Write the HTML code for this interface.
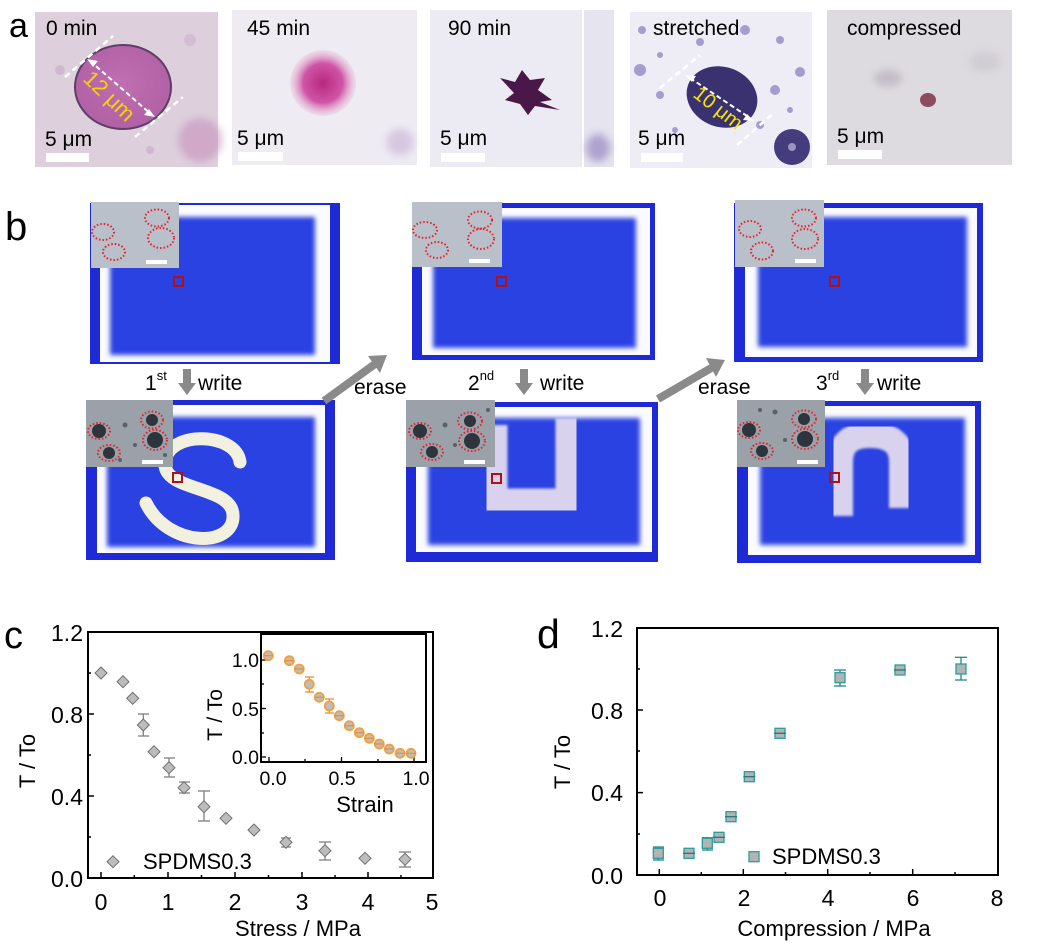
<!DOCTYPE html>
<html><head><meta charset="utf-8">
<style>
html,body{margin:0;padding:0;background:#fff;}
svg{display:block;font-family:"Liberation Sans",Arial,sans-serif;}
</style></head>
<body>
<svg width="1051" height="947" viewBox="0 0 1051 947" xmlns="http://www.w3.org/2000/svg">
<defs>
<filter id="blur2" x="-10%" y="-10%" width="120%" height="120%"><feGaussianBlur stdDeviation="2.5"/></filter>
<filter id="blur1"><feGaussianBlur stdDeviation="1.2"/></filter>
<filter id="blur4" x="-50%" y="-50%" width="200%" height="200%"><feGaussianBlur stdDeviation="4"/></filter>
<radialGradient id="pinkblob" cx="0.5" cy="0.5" r="0.5">
<stop offset="0" stop-color="#b8287e"/><stop offset="0.6" stop-color="#d055a6"/><stop offset="1" stop-color="#e8b8d8" stop-opacity="0.3"/></radialGradient>
<radialGradient id="cellA" cx="0.5" cy="0.45" r="0.55">
<stop offset="0" stop-color="#c070b0"/><stop offset="1" stop-color="#b060a4"/></radialGradient>
</defs>

<!-- ================= PANEL A ================= -->
<text x="9" y="37" font-size="34" fill="#000">a</text>

<!-- image 1 -->
<rect x="35" y="12" width="183" height="155" fill="#ddd0dc"/>
<circle cx="200" cy="140" r="22" fill="#c890bc" opacity="0.6" filter="url(#blur4)"/>
<circle cx="60" cy="70" r="5" fill="#c8a8c8" opacity="0.6"/>
<circle cx="190" cy="40" r="6" fill="#ccb0cc" opacity="0.6"/>
<circle cx="150" cy="150" r="4" fill="#c8a8c8" opacity="0.6"/>
<ellipse cx="123" cy="87" rx="48" ry="42" fill="url(#cellA)" stroke="#5e3e66" stroke-width="2"/>
<line x1="65" y1="77" x2="113" y2="36" stroke="#fff" stroke-width="2.5" stroke-dasharray="6,4"/>
<line x1="135" y1="137" x2="183" y2="97" stroke="#fff" stroke-width="2.5" stroke-dasharray="6,4"/>
<line x1="90" y1="61" x2="152" y2="115" stroke="#fff" stroke-width="2" stroke-dasharray="5,3"/>
<path d="M87,59 l11,2 l-5,6 z" fill="#fff"/>
<path d="M155,117 l-11,-2 l5,-6 z" fill="#fff"/>
<text x="0" y="0" font-size="22" fill="#f5d400" transform="translate(82,80) rotate(44)">12 μm</text>
<text x="46" y="35" font-size="21" fill="#000">0 min</text>
<text x="45" y="146" font-size="21" fill="#000">5 μm</text>
<rect x="46" y="153" width="43" height="9" fill="#fff"/>

<!-- image 2 -->
<rect x="232" y="10" width="185" height="155" fill="#eeecf2"/>
<circle cx="400" cy="142" r="14" fill="#c8b0d8" opacity="0.6" filter="url(#blur4)"/>
<circle cx="323" cy="83" r="33" fill="url(#pinkblob)"/>
<text x="247" y="35" font-size="21" fill="#000">45 min</text>
<text x="237" y="145" font-size="21" fill="#000">5 μm</text>
<rect x="238" y="152" width="45" height="9" fill="#fff"/>

<!-- image 3 -->
<rect x="430" y="10" width="152" height="157" fill="#ecebf3"/>
<rect x="584" y="10" width="30" height="157" fill="#e6e4ef"/>
<ellipse cx="598" cy="148" rx="12" ry="14" fill="#8878b8" opacity="0.6" filter="url(#blur4)"/>
<path d="M515,82 L522,70 L530,80 L545,78 L538,90 L552,100 L540,102 L560,110 L535,106 L528,115 L520,104 L505,100 L514,93 L500,78 Z" fill="#4a1848"/>
<text x="448" y="35" font-size="21" fill="#000">90 min</text>
<text x="440" y="145" font-size="21" fill="#000">5 μm</text>
<rect x="441" y="153" width="44" height="9" fill="#fff"/>

<!-- image 4 -->
<rect x="630" y="12" width="182" height="156" fill="#eeedf6"/>
<g fill="#8c84c4" opacity="0.75">
<circle cx="642" cy="30" r="4"/><circle cx="660" cy="55" r="3"/><circle cx="700" cy="42" r="4"/>
<circle cx="745" cy="30" r="5"/><circle cx="780" cy="40" r="4"/><circle cx="800" cy="72" r="5"/>
<circle cx="660" cy="95" r="4"/><circle cx="675" cy="130" r="3"/><circle cx="775" cy="90" r="5"/>
<circle cx="790" cy="110" r="3"/><circle cx="640" cy="70" r="6"/><circle cx="760" cy="125" r="4"/>
</g>
<ellipse cx="722" cy="97" rx="36" ry="30" fill="#3a3270" transform="rotate(20 722 97)"/>
<circle cx="792" cy="147" r="18" fill="#443c7c"/>
<circle cx="792" cy="147" r="4" fill="#9a94c0"/>
<line x1="660" y1="88" x2="700" y2="55" stroke="#fff" stroke-width="2.5" stroke-dasharray="6,4"/>
<line x1="737" y1="145" x2="775" y2="112" stroke="#fff" stroke-width="2.5" stroke-dasharray="6,4"/>
<line x1="690" y1="78" x2="750" y2="118" stroke="#fff" stroke-width="2" stroke-dasharray="5,3"/>
<path d="M685,75 l11,1 l-4,6 z" fill="#fff"/>
<path d="M754,121 l-11,-1 l4,-6 z" fill="#fff"/>
<text x="0" y="0" font-size="20" fill="#f5e600" transform="translate(692,96) rotate(38)">10 μm</text>
<text x="653" y="35" font-size="21" fill="#000">stretched</text>
<text x="638" y="145" font-size="21" fill="#000">5 μm</text>
<rect x="641" y="153" width="42" height="9" fill="#fff"/>

<!-- image 5 -->
<rect x="827" y="10" width="185" height="155" fill="#dddae0"/>
<ellipse cx="888" cy="78" rx="14" ry="8" fill="#b0a8b4" opacity="0.6" filter="url(#blur4)"/>
<ellipse cx="985" cy="62" rx="16" ry="10" fill="#c8c4cc" opacity="0.6" filter="url(#blur4)"/>
<ellipse cx="928" cy="100" rx="8" ry="7" fill="#8c4c5e"/>
<text x="847" y="35" font-size="21" fill="#000">compressed</text>
<text x="837" y="143" font-size="21" fill="#000">5 μm</text>
<rect x="838" y="150" width="44" height="9" fill="#fff"/>

<!-- ================= PANEL B ================= -->
<text x="5" y="240" font-size="40" fill="#000">b</text>

<!-- Board 1 top -->
<rect x="90" y="203" width="250" height="161" fill="#1e2ad6"/>
<rect x="100" y="205" width="230" height="157" fill="#fbfbfd"/>
<rect x="110" y="217" width="205" height="138" fill="#2b42e2" filter="url(#blur2)"/>
<!-- Board 1 bottom -->
<rect x="86" y="400" width="249" height="160" fill="#1e2ad6"/>
<rect x="97" y="405" width="228" height="148" fill="#fbfbfd"/>
<rect x="107" y="417" width="208" height="130" fill="#2b42e2" filter="url(#blur2)"/>
<path d="M240,462 C236,432 168,430 165,462 C162,492 232,485 233,515 C235,548 168,548 146,503" fill="none" stroke="#f2f0de" stroke-width="13" stroke-linecap="round"/>

<!-- Board 2 top -->
<rect x="412" y="203" width="243" height="157" fill="#1e2ad6"/>
<rect x="422" y="208" width="228" height="147" fill="#fbfbfd"/>
<rect x="433" y="218" width="203" height="130" fill="#2b42e2" filter="url(#blur2)"/>
<!-- Board 2 bottom -->
<rect x="406" y="402" width="252" height="160" fill="#1e2ad6"/>
<rect x="416" y="407" width="236" height="145" fill="#fbfbfd"/>
<rect x="428" y="418" width="212" height="127" fill="#2b42e2" filter="url(#blur2)"/>
<path d="M494,425 L494,502 L569,502 L569,418" fill="none" stroke="#d8d2ee" stroke-width="27" filter="url(#blur1)"/>

<!-- Board 3 top -->
<rect x="734" y="203" width="249" height="159" fill="#1e2ad6"/>
<rect x="745" y="208" width="232" height="149" fill="#fbfbfd"/>
<rect x="758" y="217" width="209" height="130" fill="#2b42e2" filter="url(#blur2)"/>
<!-- Board 3 bottom -->
<rect x="737" y="401" width="244" height="162" fill="#1e2ad6"/>
<rect x="748" y="406" width="227" height="149" fill="#fbfbfd"/>
<rect x="760" y="418" width="205" height="127" fill="#2b42e2" filter="url(#blur2)"/>
<path d="M840,516 L840,462 Q840,435 870,435 Q902,435 902,462 L902,508" fill="none" stroke="#d8d2ee" stroke-width="26" filter="url(#blur1)"/>

<!-- insets top (light) -->
<g>
<rect x="91" y="202" width="88" height="66" fill="#b9c0ca"/>
<g fill="none" stroke="#e8202a" stroke-width="2" stroke-dasharray="1.5,2">
<ellipse cx="103" cy="232" rx="11" ry="8"/><ellipse cx="114" cy="252" rx="11" ry="8"/>
<ellipse cx="157" cy="218" rx="12" ry="8.5"/><ellipse cx="161" cy="238" rx="13" ry="10"/></g>
<rect x="146" y="260" width="21" height="4" fill="#fff"/>
</g>
<g>
<rect x="412" y="202" width="90" height="65" fill="#b9c0ca"/>
<g fill="none" stroke="#e8202a" stroke-width="2" stroke-dasharray="1.5,2">
<ellipse cx="425" cy="230" rx="12" ry="8"/><ellipse cx="437" cy="250" rx="11" ry="8"/>
<ellipse cx="480" cy="220" rx="12" ry="8.5"/><ellipse cx="481" cy="239" rx="13" ry="10"/></g>
<rect x="469" y="259" width="21" height="4" fill="#fff"/>
</g>
<g>
<rect x="735" y="200" width="89" height="67" fill="#b9c0ca"/>
<g fill="none" stroke="#e8202a" stroke-width="2" stroke-dasharray="1.5,2">
<ellipse cx="750" cy="229" rx="11" ry="8"/><ellipse cx="762" cy="251" rx="11" ry="8.5"/>
<ellipse cx="804" cy="218" rx="12" ry="8.5"/><ellipse cx="805" cy="239" rx="13" ry="10"/></g>
<rect x="795" y="259" width="21" height="4" fill="#fff"/>
</g>
<!-- insets bottom (dark spots) -->
<g>
<rect x="86" y="400" width="87" height="67" fill="#9aa1a9"/>
<g fill="#2e343c"><circle cx="99" cy="431" r="7"/><circle cx="109" cy="453" r="6"/><circle cx="152" cy="420" r="6"/><circle cx="155" cy="440" r="8"/></g>
<g fill="#5a6068"><circle cx="125" cy="425" r="2.5"/><circle cx="135" cy="445" r="2"/><circle cx="120" cy="460" r="2"/><circle cx="165" cy="455" r="2"/></g>
<g fill="none" stroke="#e8202a" stroke-width="2" stroke-dasharray="1.5,2">
<ellipse cx="99" cy="431" rx="11" ry="8"/><ellipse cx="109" cy="453" rx="11" ry="8"/>
<ellipse cx="152" cy="420" rx="11" ry="8.5"/><ellipse cx="155" cy="440" rx="12" ry="10"/></g>
<rect x="142" y="460" width="21" height="4" fill="#fff"/>
</g>
<g>
<rect x="406" y="400" width="89" height="67" fill="#9aa1a9"/>
<g fill="#2e343c"><circle cx="420" cy="431" r="7"/><circle cx="432" cy="452" r="6"/><circle cx="470" cy="421" r="6"/><circle cx="472" cy="441" r="8"/></g>
<g fill="#5a6068"><circle cx="445" cy="425" r="2.5"/><circle cx="455" cy="445" r="2"/><circle cx="488" cy="410" r="2"/></g>
<g fill="none" stroke="#e8202a" stroke-width="2" stroke-dasharray="1.5,2">
<ellipse cx="420" cy="431" rx="11" ry="8"/><ellipse cx="432" cy="452" rx="11" ry="8"/>
<ellipse cx="470" cy="421" rx="12" ry="8.5"/><ellipse cx="472" cy="441" rx="13" ry="10"/></g>
<rect x="464" y="460" width="21" height="4" fill="#fff"/>
</g>
<g>
<rect x="737" y="400" width="88" height="67" fill="#9aa1a9"/>
<g fill="#2e343c"><circle cx="749" cy="430" r="7"/><circle cx="762" cy="451" r="6"/><circle cx="804" cy="419" r="6"/><circle cx="805" cy="439" r="8"/></g>
<g fill="#5a6068"><circle cx="775" cy="412" r="2.5"/><circle cx="785" cy="440" r="2"/><circle cx="760" cy="410" r="2"/></g>
<g fill="none" stroke="#e8202a" stroke-width="2" stroke-dasharray="1.5,2">
<ellipse cx="749" cy="430" rx="11" ry="8"/><ellipse cx="762" cy="451" rx="11" ry="8"/>
<ellipse cx="804" cy="419" rx="12" ry="8.5"/><ellipse cx="805" cy="439" rx="13" ry="10"/></g>
<rect x="797" y="460" width="21" height="4" fill="#fff"/>
</g>

<!-- red squares -->
<g fill="none" stroke="#b01018" stroke-width="2">
<rect x="174" y="277" width="9" height="9"/>
<rect x="173" y="473" width="9" height="9"/>
<rect x="497" y="277" width="9" height="9"/>
<rect x="492" y="474" width="9" height="9"/>
<rect x="830" y="277" width="9" height="9"/>
<rect x="830" y="473" width="9" height="9"/>
</g>

<!-- write labels & arrows -->
<g font-size="21" fill="#000">
<text x="145" y="390">1<tspan font-size="13" dy="-10">st</tspan></text>
<text x="198" y="390">write</text>
<text x="468" y="390">2<tspan font-size="13" dy="-10">nd</tspan></text>
<text x="540" y="390">write</text>
<text x="816" y="390">3<tspan font-size="13" dy="-10">rd</tspan></text>
<text x="877" y="390">write</text>
<text x="354" y="394">erase</text>
<text x="698" y="394">erase</text>
</g>
<g fill="#8a8a8a">
<path d="M183,369 h8 v14 h5 l-9,12 l-9,-12 h5 z"/>
<path d="M520,369 h8 v14 h5 l-9,12 l-9,-12 h5 z"/>
<path d="M861,369 h8 v14 h5 l-9,12 l-9,-12 h5 z"/>
</g>
<g stroke="#8a8a8a" stroke-width="8" fill="none">
<line x1="324" y1="401" x2="375" y2="364"/>
<line x1="658" y1="399" x2="713" y2="367"/>
</g>
<path d="M387,355 L368,356 L380,373 Z" fill="#8a8a8a"/>
<path d="M725,360 L706,358 L716,377 Z" fill="#8a8a8a"/>

<!-- ================= PANEL C ================= -->
<text x="4" y="648" font-size="38" fill="#000">c</text>
<rect x="88" y="632" width="345" height="246" fill="none" stroke="#000" stroke-width="2"/>
<g stroke="#000" stroke-width="1.5">
<line x1="101" y1="878" x2="101" y2="872"/><line x1="134.3" y1="878" x2="134.3" y2="875"/>
<line x1="168" y1="878" x2="168" y2="872"/><line x1="201.5" y1="878" x2="201.5" y2="875"/>
<line x1="235" y1="878" x2="235" y2="872"/><line x1="268.5" y1="878" x2="268.5" y2="875"/>
<line x1="302" y1="878" x2="302" y2="872"/><line x1="335" y1="878" x2="335" y2="875"/>
<line x1="368" y1="878" x2="368" y2="872"/><line x1="401" y1="878" x2="401" y2="875"/>
<line x1="88" y1="796" x2="94" y2="796"/><line x1="88" y1="714" x2="94" y2="714"/>
<line x1="88" y1="837" x2="91" y2="837"/><line x1="88" y1="755" x2="91" y2="755"/><line x1="88" y1="673" x2="91" y2="673"/>
</g>
<g font-size="23" fill="#000" text-anchor="end">
<text x="83" y="641">1.2</text><text x="83" y="723">0.8</text><text x="83" y="805">0.4</text><text x="83" y="887">0.0</text>
</g>
<g font-size="23" fill="#000" text-anchor="middle">
<text x="101" y="910">0</text><text x="168" y="910">1</text><text x="235" y="910">2</text>
<text x="302" y="910">3</text><text x="368" y="910">4</text><text x="432" y="910">5</text>
</g>
<text x="298" y="936" font-size="22" text-anchor="middle" fill="#000">Stress / MPa</text>
<text x="0" y="0" font-size="22" text-anchor="middle" fill="#000" transform="translate(35,761) rotate(-90)">T / To</text>

<!-- c error bars -->
<g stroke="#808080" stroke-width="1.3">
<line x1="143.3" y1="714" x2="143.3" y2="736"/><line x1="138" y1="714" x2="149" y2="714"/><line x1="138" y1="736" x2="149" y2="736"/>
<line x1="169" y1="758" x2="169" y2="777"/><line x1="164" y1="758" x2="175" y2="758"/><line x1="164" y1="777" x2="175" y2="777"/>
<line x1="184" y1="782" x2="184" y2="793"/><line x1="179" y1="782" x2="190" y2="782"/><line x1="179" y1="793" x2="190" y2="793"/>
<line x1="204" y1="791" x2="204" y2="821"/><line x1="198" y1="791" x2="210" y2="791"/><line x1="198" y1="821" x2="210" y2="821"/>
<line x1="286" y1="838" x2="286" y2="847"/><line x1="281" y1="838" x2="291" y2="838"/><line x1="281" y1="847" x2="291" y2="847"/>
<line x1="325" y1="842" x2="325" y2="860"/><line x1="319" y1="842" x2="331" y2="842"/><line x1="319" y1="860" x2="331" y2="860"/>
<line x1="405" y1="852" x2="405" y2="867"/><line x1="399" y1="852" x2="411" y2="852"/><line x1="399" y1="867" x2="411" y2="867"/>
</g>
<g fill="#bcbcbc" stroke="#6e6e6e" stroke-width="1">
<path d="M101,667 l6,6 l-6,6 l-6,-6 z"/>
<path d="M123,675.7 l6,6 l-6,6 l-6,-6 z"/>
<path d="M132.7,692.3 l6,6 l-6,6 l-6,-6 z"/>
<path d="M143.3,719 l6,6 l-6,6 l-6,-6 z"/>
<path d="M154,745.7 l6,6 l-6,6 l-6,-6 z"/>
<path d="M169,761.7 l6,6 l-6,6 l-6,-6 z"/>
<path d="M184,781.7 l6,6 l-6,6 l-6,-6 z"/>
<path d="M204,800.7 l6,6 l-6,6 l-6,-6 z"/>
<path d="M226,812.3 l6,6 l-6,6 l-6,-6 z"/>
<path d="M254,824 l6,6 l-6,6 l-6,-6 z"/>
<path d="M286,836.3 l6,6 l-6,6 l-6,-6 z"/>
<path d="M325,844.7 l6,6 l-6,6 l-6,-6 z"/>
<path d="M365,852.3 l6,6 l-6,6 l-6,-6 z"/>
<path d="M405,853.3 l6,6 l-6,6 l-6,-6 z"/>
<path d="M113,855.7 l6,6 l-6,6 l-6,-6 z"/>
</g>
<text x="143" y="869" font-size="22" fill="#000">SPDMS0.3</text>

<!-- inset c -->
<rect x="261" y="634" width="165" height="128" fill="#fff" stroke="#000" stroke-width="2"/>
<g stroke="#000" stroke-width="1.3">
<line x1="269" y1="762" x2="269" y2="757"/><line x1="305" y1="762" x2="305" y2="759"/>
<line x1="341.5" y1="762" x2="341.5" y2="757"/><line x1="378" y1="762" x2="378" y2="759"/>
<line x1="414" y1="762" x2="414" y2="757"/>
<line x1="261" y1="660" x2="266" y2="660"/><line x1="261" y1="684" x2="264" y2="684"/>
<line x1="261" y1="708.5" x2="266" y2="708.5"/><line x1="261" y1="733" x2="264" y2="733"/>
<line x1="261" y1="757" x2="266" y2="757"/>
</g>
<g font-size="19.5" fill="#000" text-anchor="end">
<text x="259" y="667">1.0</text><text x="259" y="716">0.5</text><text x="259" y="764">0.0</text>
</g>
<g font-size="19.5" fill="#000" text-anchor="middle">
<text x="273" y="785">0.0</text><text x="342" y="785">0.5</text><text x="416" y="785">1.0</text>
</g>
<text x="365" y="812" font-size="22" text-anchor="middle" fill="#000">Strain</text>
<text x="0" y="0" font-size="21" text-anchor="middle" fill="#000" transform="translate(222,715) rotate(-90)">T / To</text>
<g stroke="#e8902c" stroke-width="1.3">
<line x1="309.3" y1="677" x2="309.3" y2="692"/><line x1="305" y1="677" x2="314" y2="677"/><line x1="305" y1="692" x2="314" y2="692"/>
<line x1="329.3" y1="699" x2="329.3" y2="713"/><line x1="325" y1="699" x2="334" y2="699"/><line x1="325" y1="713" x2="334" y2="713"/>
</g>
<g fill="#bdbdbd" stroke="#f0a040" stroke-width="1.8">
<circle cx="268.3" cy="655.7" r="4.5"/><circle cx="289.3" cy="660.7" r="4.5"/>
<circle cx="299.3" cy="669" r="4.5"/><circle cx="309.3" cy="684.3" r="4.5"/>
<circle cx="319.3" cy="697.3" r="4.5"/><circle cx="329.3" cy="706" r="4.5"/>
<circle cx="339.3" cy="715.7" r="4.5"/><circle cx="349.3" cy="725.7" r="4.5"/>
<circle cx="359.3" cy="732.7" r="4.5"/><circle cx="369.3" cy="738.3" r="4.5"/>
<circle cx="379.3" cy="744" r="4.5"/><circle cx="389.3" cy="749" r="4.5"/>
<circle cx="400" cy="753.3" r="4.5"/><circle cx="411" cy="753.3" r="4.5"/>
</g>
<g stroke="#e8902c" stroke-width="1.2">
<line x1="264" y1="655.7" x2="273" y2="655.7"/><line x1="285" y1="660.7" x2="294" y2="660.7"/>
<line x1="295" y1="669" x2="304" y2="669"/><line x1="315" y1="697.3" x2="324" y2="697.3"/>
<line x1="335" y1="715.7" x2="344" y2="715.7"/><line x1="345" y1="725.7" x2="354" y2="725.7"/>
<line x1="355" y1="732.7" x2="364" y2="732.7"/><line x1="365" y1="738.3" x2="374" y2="738.3"/>
<line x1="375" y1="744" x2="384" y2="744"/><line x1="385" y1="749" x2="394" y2="749"/>
<line x1="396" y1="753.3" x2="405" y2="753.3"/><line x1="407" y1="753.3" x2="416" y2="753.3"/>
</g>

<!-- ================= PANEL D ================= -->
<text x="537" y="648" font-size="41" fill="#000">d</text>
<rect x="637" y="628" width="361" height="247" fill="none" stroke="#000" stroke-width="2"/>
<g stroke="#000" stroke-width="1.5">
<line x1="659.3" y1="875" x2="659.3" y2="869"/><line x1="701.3" y1="875" x2="701.3" y2="872"/>
<line x1="743.3" y1="875" x2="743.3" y2="869"/><line x1="785.5" y1="875" x2="785.5" y2="872"/>
<line x1="827.7" y1="875" x2="827.7" y2="869"/><line x1="870" y1="875" x2="870" y2="872"/>
<line x1="912.7" y1="875" x2="912.7" y2="869"/><line x1="955" y1="875" x2="955" y2="872"/>
<line x1="637" y1="792.6" x2="643" y2="792.6"/><line x1="637" y1="710" x2="643" y2="710"/>
<line x1="637" y1="834" x2="640" y2="834"/><line x1="637" y1="751" x2="640" y2="751"/><line x1="637" y1="669" x2="640" y2="669"/>
</g>
<g font-size="23" fill="#000" text-anchor="end">
<text x="623" y="637">1.2</text><text x="623" y="719">0.8</text><text x="623" y="801">0.4</text><text x="623" y="884">0.0</text>
</g>
<g font-size="23" fill="#000" text-anchor="middle">
<text x="660" y="906">0</text><text x="744" y="906">2</text><text x="828" y="906">4</text>
<text x="913" y="906">6</text><text x="997" y="906">8</text>
</g>
<text x="834" y="936" font-size="22" text-anchor="middle" fill="#000">Compression / MPa</text>
<text x="0" y="0" font-size="22" text-anchor="middle" fill="#000" transform="translate(570,762) rotate(-90)">T / To</text>

<g stroke="#1f8a8a" stroke-width="1.3">
<line x1="658.3" y1="847" x2="658.3" y2="860"/><line x1="653" y1="847" x2="664" y2="847"/><line x1="653" y1="860" x2="664" y2="860"/>
<line x1="707.3" y1="837.7" x2="707.3" y2="850"/><line x1="702" y1="837.7" x2="713" y2="837.7"/><line x1="702" y1="850" x2="713" y2="850"/>
<line x1="840" y1="670" x2="840" y2="686"/><line x1="834" y1="670" x2="846" y2="670"/><line x1="834" y1="686" x2="846" y2="686"/>
<line x1="961" y1="657.3" x2="961" y2="680"/><line x1="955" y1="657.3" x2="967" y2="657.3"/><line x1="955" y1="680" x2="967" y2="680"/>
</g>
<g fill="#b3b3b3" stroke="#2a9d9d" stroke-width="1.3">
<rect x="653.3" y="848.3" width="10" height="10"/>
<rect x="684" y="848.3" width="10" height="10"/>
<rect x="702.3" y="838.3" width="10" height="10"/>
<rect x="714" y="832.3" width="10" height="10"/>
<rect x="726" y="811.7" width="10" height="10"/>
<rect x="744.3" y="771.7" width="10" height="10"/>
<rect x="775" y="728.3" width="10" height="10"/>
<rect x="835" y="672.7" width="10" height="10"/>
<rect x="895" y="665" width="10" height="10"/>
<rect x="956" y="664" width="10" height="10"/>
<rect x="749" y="851.7" width="10" height="10"/>
</g>
<g stroke="#1f7a7a" stroke-width="1.3">
<line x1="683" y1="853.3" x2="695" y2="853.3"/><line x1="713" y1="837.3" x2="725" y2="837.3"/>
<line x1="725" y1="816.7" x2="737" y2="816.7"/><line x1="743.3" y1="776.7" x2="755.3" y2="776.7"/>
<line x1="774" y1="733.3" x2="786" y2="733.3"/><line x1="894" y1="670" x2="906" y2="670"/>
</g>
<text x="772" y="864" font-size="22" fill="#000">SPDMS0.3</text>
</svg>
</body></html>
